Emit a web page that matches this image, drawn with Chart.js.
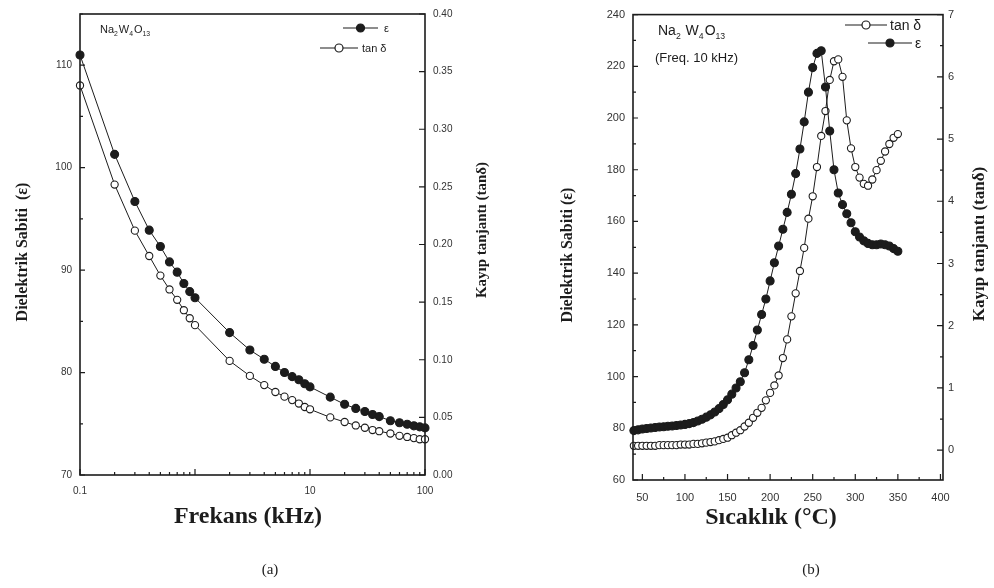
<!DOCTYPE html>
<html>
<head>
<meta charset="utf-8">
<script src="https://cdn.jsdelivr.net/npm/chart.js@4.4.1/dist/chart.umd.min.js"></script>
<style>
  body { margin: 0; background: #fff; }
  #wrap { position: relative; width: 994px; height: 588px; }
  canvas { position: absolute; top: 0; }
  #chartA { left: 0; }
  #chartB { left: 497px; }
</style>
</head>
<body>
<div id="wrap">
  <canvas id="chartA" width="497" height="588"></canvas>
  <canvas id="chartB" width="497" height="588"></canvas>
</div>
<script>
// (a) frequency sweep
const freqKHz = [0.1, 0.2, 0.3, 0.4, 0.5, 0.6, 0.7, 0.8, 0.9, 1,
  2, 3, 4, 5, 6, 7, 8, 9, 10,
  15, 20, 25, 30, 35, 40, 50, 60, 70, 80, 90, 100];
const epsFreq = [111.0, 101.3, 96.7, 93.9, 92.3, 90.8, 89.8, 88.7, 87.9, 87.3,
  83.9, 82.2, 81.3, 80.6, 80.0, 79.6, 79.3, 78.9, 78.6,
  77.6, 76.9, 76.5, 76.2, 75.9, 75.7, 75.3, 75.1, 74.95, 74.8, 74.7, 74.6];
const tanFreq = [0.338, 0.252, 0.212, 0.190, 0.173, 0.161, 0.152, 0.143, 0.136, 0.130,
  0.099, 0.086, 0.078, 0.072, 0.068, 0.065, 0.062, 0.059, 0.057,
  0.050, 0.046, 0.043, 0.041, 0.039, 0.038, 0.036, 0.034, 0.033, 0.032, 0.031, 0.031];
const freqTicks = [0.1, 10, 100];
const epsTicksA = [70, 80, 90, 100, 110];
const tanTicksA = [0, 0.05, 0.10, 0.15, 0.20, 0.25, 0.30, 0.35, 0.40];

// (b) temperature sweep at 10 kHz
const tempC = [40, 45, 50, 55, 60, 65, 70, 75, 80, 85, 90, 95, 100, 105, 110, 115, 120, 125, 130, 135,
  140, 145, 150, 155, 160, 165, 170, 175, 180, 185, 190, 195, 200, 205, 210, 215, 220, 225, 230, 235,
  240, 245, 250, 255, 260, 265, 270, 275, 280, 285, 290, 295, 300, 305, 310, 315, 320, 325, 330, 335,
  340, 345, 350];
const epsTemp = [79.1, 79.4, 79.7, 79.9, 80.1, 80.3, 80.5, 80.6, 80.8, 80.9, 81.1, 81.3, 81.5, 81.8, 82.2, 82.8, 83.5, 84.3, 85.2, 86.3,
  87.6, 89.2, 91.0, 93.2, 95.6, 98.0, 101.5, 106.5, 112.0, 118.0, 124.0, 130.0, 137.0, 144.0, 150.5, 157.0, 163.5, 170.5, 178.5, 188.0,
  198.5, 210.0, 219.5, 225.0, 226.0, 212.0, 195.0, 180.0, 171.0, 166.5, 163.0, 159.5, 156.0, 154.0, 152.5, 151.5, 151.0, 151.0, 151.3, 151.0,
  150.5, 149.5, 148.5];
const tanTemp = [0.07, 0.07, 0.07, 0.07, 0.07, 0.07, 0.08, 0.08, 0.08, 0.08, 0.08, 0.09, 0.09, 0.09, 0.10, 0.10, 0.11, 0.12, 0.13, 0.14,
  0.16, 0.18, 0.20, 0.24, 0.28, 0.32, 0.38, 0.44, 0.52, 0.60, 0.68, 0.80, 0.92, 1.04, 1.20, 1.48, 1.78, 2.15, 2.52, 2.88,
  3.25, 3.72, 4.08, 4.55, 5.05, 5.45, 5.95, 6.25, 6.28, 6.00, 5.30, 4.85, 4.55, 4.38, 4.28, 4.25, 4.35, 4.50, 4.65, 4.80,
  4.92, 5.02, 5.08];
const tempTicks = [50, 100, 150, 200, 250, 300, 350, 400];
const epsTicksB = [60, 80, 100, 120, 140, 160, 180, 200, 220, 240];
const tanTicksB = [0, 1, 2, 3, 4, 5, 6, 7];

const INK = "#1c1c1c";
const SANS = '"Liberation Sans", Arial, sans-serif';
const SERIF = '"Liberation Serif", "DejaVu Serif", serif';

function pts(xs, ys) {
  return xs.map((x, i) => ({ x: x, y: ys[i] }));
}

function series(data, axis, filled, r) {
  return {
    data: data,
    yAxisID: axis,
    borderColor: INK,
    borderWidth: 1,
    pointRadius: r,
    pointBackgroundColor: filled ? INK : "#fff",
    pointBorderColor: INK,
    pointBorderWidth: 1.1,
    tension: 0,
    clip: 8
  };
}

function fixedTicks(list) {
  return s => { s.ticks = list.map(v => ({ value: v })); };
}

function rotated(ctx, text, x, y, font) {
  ctx.save();
  ctx.translate(x, y);
  ctx.rotate(-Math.PI / 2);
  ctx.font = font;
  ctx.textAlign = "center";
  ctx.textBaseline = "middle";
  ctx.fillText(text, 0, 0);
  ctx.restore();
}

// chemical formula with digits lowered as subscripts
function formula(ctx, parts, x, y, size) {
  let cx = x;
  ctx.textAlign = "left";
  ctx.textBaseline = "alphabetic";
  parts.forEach(p => {
    const sub = /^\d+$/.test(p);
    ctx.font = (sub ? size * 0.62 : size) + "px " + SANS;
    ctx.fillText(p, cx, sub ? y + size * 0.28 : y);
    cx += ctx.measureText(p).width + (sub ? 1 : 0);
  });
}

function legendItem(ctx, x1, x2, y, filled, label, tx, size) {
  ctx.strokeStyle = INK;
  ctx.lineWidth = 1.2;
  ctx.beginPath();
  ctx.moveTo(x1, y);
  ctx.lineTo(x2, y);
  ctx.stroke();
  ctx.beginPath();
  ctx.arc((x1 + x2) / 2, y, 4, 0, Math.PI * 2);
  ctx.fillStyle = filled ? INK : "#fff";
  ctx.fill();
  ctx.stroke();
  ctx.fillStyle = INK;
  ctx.font = size + "px " + SANS;
  ctx.textAlign = "left";
  ctx.textBaseline = "middle";
  ctx.fillText(label, tx, y + 1);
}

// inward tick marks on a scale
function inTicks(ctx, chart, id, values, len) {
  const s = chart.scales[id];
  const a = chart.chartArea;
  ctx.beginPath();
  values.forEach(v => {
    const p = s.getPixelForValue(v);
    if (s.isHorizontal()) {
      ctx.moveTo(p, a.bottom);
      ctx.lineTo(p, a.bottom - len);
    } else if (s.position === "left") {
      ctx.moveTo(a.left, p);
      ctx.lineTo(a.left + len, p);
    } else {
      ctx.moveTo(a.right, p);
      ctx.lineTo(a.right - len, p);
    }
  });
  ctx.stroke();
}

function range(a, b, step) {
  const out = [];
  for (let v = a; v <= b + 1e-9; v += step) out.push(+v.toFixed(4));
  return out;
}

function axisOpts(list, size, pad, fmt, fit) {
  return {
    grid: { display: false, drawTicks: false },
    border: { display: false },
    afterBuildTicks: fixedTicks(list),
    afterFit: fit,
    ticks: {
      padding: pad,
      color: "#333",
      font: { family: SANS, size: size },
      maxRotation: 0,
      autoSkip: false,
      callback: fmt
    }
  };
}

const framePlugin = {
  id: "frame",
  afterDatasetsDraw(chart, args, opts) {
    const ctx = chart.ctx;
    const a = chart.chartArea;
    ctx.save();
    ctx.strokeStyle = INK;
    ctx.lineWidth = 1.6;
    ctx.strokeRect(a.left, a.top, a.right - a.left, a.bottom - a.top);
    ctx.lineWidth = 1.2;
    opts.ticks.forEach(t => inTicks(ctx, chart, t[0], t[1], t[2]));
    ctx.fillStyle = INK;
    opts.text(ctx);
    ctx.restore();
  }
};

// minor log ticks 2..9 in each decade
const logMinor = [];
[0.1, 1, 10].forEach(d => { for (let k = 2; k <= 9; k++) logMinor.push(d * k); });

new Chart(document.getElementById("chartA"), {
  type: "line",
  data: {
    datasets: [
      series(pts(freqKHz, epsFreq), "y", true, 4),
      series(pts(freqKHz, tanFreq), "y1", false, 3.6)
    ]
  },
  plugins: [framePlugin],
  options: {
    responsive: false,
    animation: false,
    layout: { padding: { top: 11, left: 0, right: 0, bottom: 0 } },
    plugins: {
      legend: { display: false },
      tooltip: { enabled: false },
      frame: {
        ticks: [
          ["x", [0.1, 1, 10, 100], 6], ["x", logMinor, 3],
          ["y", epsTicksA, 5], ["y", range(75, 115, 10), 3],
          ["y1", tanTicksA, 6]
        ],
        text(ctx) {
          formula(ctx, ["Na", "2", "W", "4", "O", "13"], 100, 33, 11);
          legendItem(ctx, 343, 378, 28, true, "ε", 384, 11);
          legendItem(ctx, 320, 358, 48, false, "tan δ", 362, 11);
          rotated(ctx, "Dielektrik Sabiti  (ε)", 23, 252, "bold 16px " + SERIF);
          rotated(ctx, "Kayıp tanjantı (tanδ)", 482, 230, "bold 15px " + SERIF);
          ctx.font = "bold 24px " + SERIF;
          ctx.textAlign = "center";
          ctx.textBaseline = "middle";
          ctx.fillText("Frekans (kHz)", 248, 517);
          ctx.font = "15px " + SERIF;
          ctx.fillText("(a)", 270, 570);
        }
      }
    },
    scales: {
      x: Object.assign({ type: "logarithmic", position: "bottom", min: 0.1, max: 100 },
        axisOpts(freqTicks, 10, 10, v => String(v), s => { s.height = 113; })),
      y: Object.assign({ type: "linear", position: "left", min: 70, max: 115 },
        axisOpts(epsTicksA, 10, 8, v => String(v), s => { s.width = 80; })),
      y1: Object.assign({ type: "linear", position: "right", min: 0, max: 0.40 },
        axisOpts(tanTicksA, 10, 8, v => v.toFixed(2), s => { s.width = 72; }))
    }
  }
});

new Chart(document.getElementById("chartB"), {
  type: "line",
  data: {
    datasets: [
      series(pts(tempC, epsTemp), "y", true, 4),
      series(pts(tempC, tanTemp), "y1", false, 3.6)
    ]
  },
  plugins: [framePlugin],
  options: {
    responsive: false,
    animation: false,
    layout: { padding: { top: 9, left: 0, right: 0, bottom: 0 } },
    plugins: {
      legend: { display: false },
      tooltip: { enabled: false },
      frame: {
        ticks: [
          ["x", tempTicks, 6], ["x", range(75, 375, 50), 3],
          ["y", epsTicksB, 5], ["y", range(70, 230, 20), 3],
          ["y1", tanTicksB, 6], ["y1", range(0.5, 6.5, 1), 3]
        ],
        text(ctx) {
          formula(ctx, ["Na", "2", " W", "4", "O", "13"], 161, 35, 14);
          ctx.font = "13px " + SANS;
          ctx.textAlign = "left";
          ctx.textBaseline = "middle";
          ctx.fillText("(Freq. 10 kHz)", 158, 58);
          legendItem(ctx, 348, 390, 25, false, "tan δ", 393, 14);
          legendItem(ctx, 371, 415, 43, true, "ε", 418, 14);
          rotated(ctx, "Dielektrik Sabiti (ε)", 71, 255, "bold 16px " + SERIF);
          rotated(ctx, "Kayıp tanjantı (tanδ)", 483, 244, "bold 17px " + SERIF);
          ctx.font = "bold 24px " + SERIF;
          ctx.textAlign = "center";
          ctx.textBaseline = "middle";
          ctx.fillText("Sıcaklık (°C)", 274, 518);
          ctx.font = "15px " + SERIF;
          ctx.fillText("(b)", 314, 570);
        }
      }
    },
    scales: {
      x: Object.assign({ type: "linear", position: "bottom", min: 39, max: 403 },
        axisOpts(tempTicks, 11, 11, v => String(v), s => { s.height = 108; })),
      y: Object.assign({ type: "linear", position: "left", min: 60, max: 240 },
        axisOpts(epsTicksB, 11, 8, v => String(v), s => { s.width = 136; })),
      y1: Object.assign({ type: "linear", position: "right", min: -0.48, max: 7 },
        axisOpts(tanTicksB, 11, 5, v => String(v), s => { s.width = 51; }))
    }
  }
});
</script>
</body>
</html>
